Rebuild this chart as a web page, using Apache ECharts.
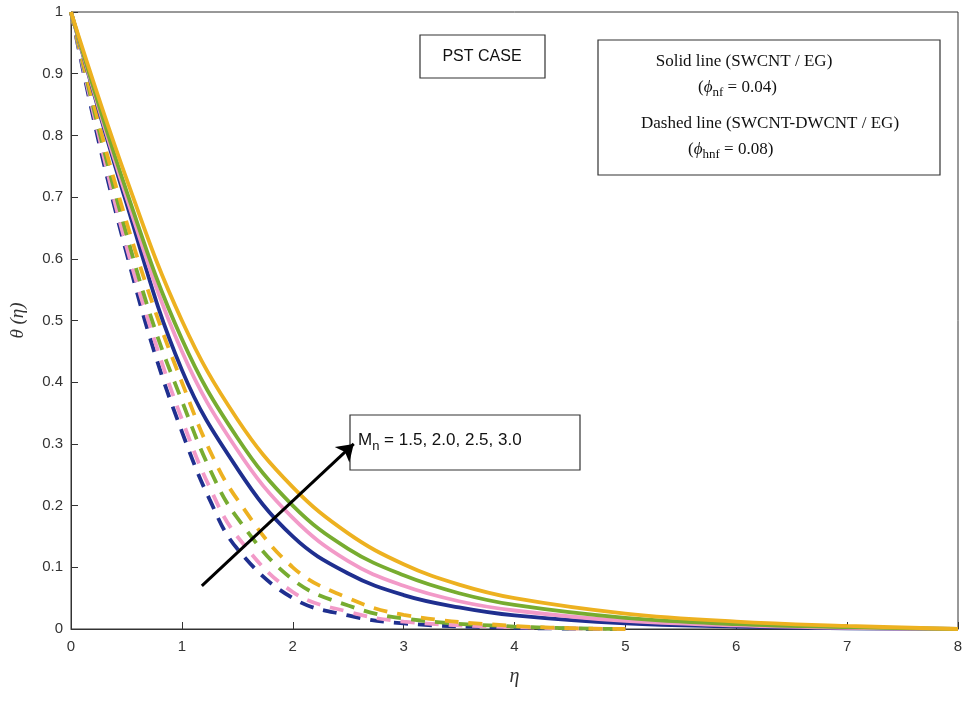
<!DOCTYPE html>
<html>
<head>
<meta charset="utf-8">
<script src="https://cdn.jsdelivr.net/npm/echarts@6/dist/echarts.min.js"></script>
<style>html,body{margin:0;padding:0;background:#fff}#main{width:968px;height:702px}</style>
</head>
<body>
<div id="main"></div>
<script>
// eta values for solid (nanofluid) and dashed (hybrid) curves
var etaSolid = [0, 0.5, 1, 1.5, 2, 2.5, 3, 3.5, 4, 5, 6, 7, 8];
var blueSolid   = [1, 0.69, 0.42, 0.26, 0.15, 0.09, 0.055, 0.035, 0.022, 0.009, 0.004, 0.001, 0];
var pinkSolid   = [1, 0.70, 0.45, 0.29, 0.18, 0.11, 0.07, 0.045, 0.03, 0.013, 0.006, 0.002, 0];
var greenSolid  = [1, 0.71, 0.47, 0.31, 0.20, 0.13, 0.087, 0.058, 0.039, 0.018, 0.008, 0.003, 0];
var orangeSolid = [1, 0.73, 0.50, 0.34, 0.23, 0.155, 0.105, 0.072, 0.05, 0.025, 0.012, 0.005, 0];

var etaDash = [0, 0.25, 0.5, 0.75, 1, 1.25, 1.5, 2, 2.5, 3, 4, 5];
var blueDash   = [1, 0.79, 0.61, 0.45, 0.32, 0.21, 0.13, 0.05, 0.022, 0.009, 0.002, 0];
var pinkDash   = [1, 0.80, 0.62, 0.47, 0.34, 0.23, 0.15, 0.06, 0.028, 0.012, 0.003, 0];
var greenDash  = [1, 0.81, 0.64, 0.49, 0.37, 0.26, 0.18, 0.08, 0.038, 0.017, 0.004, 0];
var orangeDash = [1, 0.82, 0.66, 0.52, 0.40, 0.29, 0.21, 0.10, 0.05, 0.023, 0.005, 0];

var colors = ['#1f2f8f', '#f29ac8', '#77ac30', '#edb120'];

function pairs(xs, ys) {
	var out = [];
	for (var i = 0; i < xs.length; i++) out.push([xs[i], ys[i]]);
	return out;
}
function line(xs, ys, c, dashed) {
	return {
		type: 'line', smooth: 0.4, symbol: 'none', silent: true,
		data: pairs(xs, ys),
		lineStyle: { color: c, width: 3.8, type: dashed ? [14, 10] : 'solid' }
	};
}

var series = [
	line(etaDash, blueDash, colors[0], true),
	line(etaDash, pinkDash, colors[1], true),
	line(etaDash, greenDash, colors[2], true),
	line(etaDash, orangeDash, colors[3], true),
	line(etaSolid, blueSolid, colors[0], false),
	line(etaSolid, pinkSolid, colors[1], false),
	line(etaSolid, greenSolid, colors[2], false),
	line(etaSolid, orangeSolid, colors[3], false)
];
series.push({
	type: 'line', data: [], silent: true,
	markLine: {
		silent: true, symbol: ['none', 'arrow'], symbolSize: 16,
		label: { show: false },
		lineStyle: { color: '#000', width: 3, type: 'solid' },
		data: [[{ coord: [1.18, 0.07] }, { coord: [2.55, 0.3] }]]
	}
});

var myChart = echarts.init(document.getElementById('main'));
var option = {
	animation: false,
	grid: { left: 70, right: 10, top: 12, bottom: 73, show: true, borderColor: '#333', borderWidth: 1 },
	xAxis: {
		type: 'value', min: 0, max: 8, interval: 1,
		name: 'η', nameLocation: 'middle', nameGap: 38,
		nameTextStyle: { fontFamily: 'Liberation Serif', fontStyle: 'italic', fontSize: 20, color: '#333' },
		axisLine: { lineStyle: { color: '#333' } },
		axisTick: { inside: true, length: 7, lineStyle: { color: '#333' } },
		axisLabel: { fontFamily: 'Liberation Sans', fontSize: 15, color: '#333', margin: 10 },
		splitLine: { show: false }
	},
	yAxis: {
		type: 'value', min: 0, max: 1, interval: 0.1,
		name: 'θ (η)', nameLocation: 'middle', nameGap: 44,
		nameTextStyle: { fontFamily: 'Liberation Serif', fontStyle: 'italic', fontSize: 19, color: '#333' },
		axisLine: { lineStyle: { color: '#333' } },
		axisTick: { inside: true, length: 7, lineStyle: { color: '#333' } },
		axisLabel: { fontFamily: 'Liberation Sans', fontSize: 15, color: '#333', formatter: function (v) { return +v.toFixed(1) + ''; } },
		splitLine: { show: false }
	},
	series: series,
	graphic: [
		{ type: 'rect', shape: { x: 420, y: 35, width: 125, height: 43 }, style: { fill: '#fff', stroke: '#333', lineWidth: 1.2 } },
		{ type: 'text', x: 482, y: 57, style: { text: 'PST CASE', font: '16px Liberation Sans', fill: '#111', align: 'center', verticalAlign: 'middle' } },
		{ type: 'rect', shape: { x: 598, y: 40, width: 342, height: 135 }, style: { fill: '#fff', stroke: '#333', lineWidth: 1.2 } },
		{ type: 'text', x: 744, y: 62, style: { text: 'Solid line (SWCNT / EG)', font: '17px Liberation Serif', fill: '#111', align: 'center', verticalAlign: 'middle' } },
		{ type: 'text', x: 698, y: 88, style: {
			text: '({i|ϕ}{s|nf} = 0.04)', font: '17px Liberation Serif', fill: '#111', verticalAlign: 'middle',
			rich: { i: { fontStyle: 'italic', fontSize: 17, fontFamily: 'Liberation Serif' }, s: { fontSize: 13, fontFamily: 'Liberation Serif', padding: [10, 0, 0, 0] } } } },
		{ type: 'text', x: 770, y: 124, style: { text: 'Dashed line (SWCNT-DWCNT / EG)', font: '17px Liberation Serif', fill: '#111', align: 'center', verticalAlign: 'middle' } },
		{ type: 'text', x: 688, y: 150, style: {
			text: '({i|ϕ}{s|hnf} = 0.08)', font: '17px Liberation Serif', fill: '#111', verticalAlign: 'middle',
			rich: { i: { fontStyle: 'italic', fontSize: 17, fontFamily: 'Liberation Serif' }, s: { fontSize: 13, fontFamily: 'Liberation Serif', padding: [10, 0, 0, 0] } } } },
		{ type: 'rect', shape: { x: 350, y: 415, width: 230, height: 55 }, style: { fill: '#fff', stroke: '#333', lineWidth: 1.2 } },
		{ type: 'text', x: 358, y: 440, style: {
			text: 'M{s|n} = 1.5, 2.0, 2.5, 3.0', font: '17px Liberation Sans', fill: '#111', verticalAlign: 'middle',
			rich: { s: { fontSize: 13, fontFamily: 'Liberation Sans', padding: [12, 0, 0, 0] } } } }
	]
};
myChart.setOption(option);
</script>
</body>
</html>
